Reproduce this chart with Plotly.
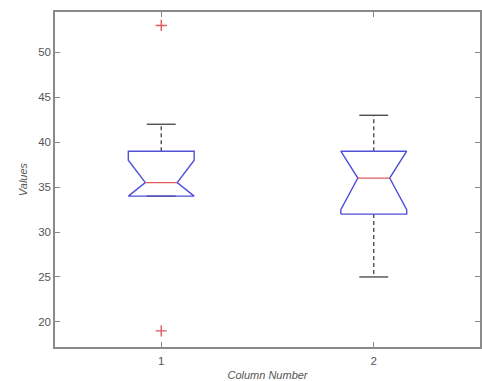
import plotly.graph_objects as go

# ---- data ----
columns = [1, 2]
q1 = [34, 32]
q3 = [39, 39]
medians = [35.5, 36]
notch_lo = [34, 32.5]
notch_hi = [38, 39]
whisker_lo = [34, 25]
whisker_hi = [42, 43]
outlier_x = [1, 1]
outlier_y = [53, 19]
y_ticks = [20, 25, 30, 35, 40, 45, 50]

# ---- styling ----
BOX_HALF = 0.155
NOTCH_HALF = 0.075
CAP_HALF = 0.068
BLUE = "#4f4fd8"
RED = "#e05a5a"
DARK = "#505050"
TXT = "#555555"

fig = go.Figure()

for i, c in enumerate(columns):
    # whiskers (dashed) and caps
    fig.add_trace(go.Scatter(
        x=[c, c, None, c, c],
        y=[q3[i], whisker_hi[i], None, q1[i], whisker_lo[i]],
        mode="lines", line=dict(color=DARK, width=1.4, dash="4px,3px"),
        hoverinfo="skip", showlegend=False))
    fig.add_trace(go.Scatter(
        x=[c - CAP_HALF, c + CAP_HALF, None, c - CAP_HALF, c + CAP_HALF],
        y=[whisker_hi[i], whisker_hi[i], None, whisker_lo[i], whisker_lo[i]],
        mode="lines", line=dict(color=DARK, width=1.4),
        hoverinfo="skip", showlegend=False))
    # notched box outline
    xs = [c - BOX_HALF, c - BOX_HALF, c - NOTCH_HALF, c - BOX_HALF, c - BOX_HALF,
          c + BOX_HALF, c + BOX_HALF, c + NOTCH_HALF, c + BOX_HALF, c + BOX_HALF,
          c - BOX_HALF]
    ys = [q1[i], notch_lo[i], medians[i], notch_hi[i], q3[i],
          q3[i], notch_hi[i], medians[i], notch_lo[i], q1[i], q1[i]]
    fig.add_trace(go.Scatter(x=xs, y=ys, mode="lines",
                             line=dict(color=BLUE, width=1.4),
                             hoverinfo="skip", showlegend=False))
    # median
    fig.add_trace(go.Scatter(
        x=[c - NOTCH_HALF, c + NOTCH_HALF], y=[medians[i], medians[i]],
        mode="lines", line=dict(color=RED, width=1.4),
        hoverinfo="skip", showlegend=False))

fig.add_trace(go.Scatter(
    x=outlier_x, y=outlier_y, mode="markers",
    marker=dict(symbol="cross-thin", size=8, line=dict(color=RED, width=1.4)),
    hoverinfo="skip", showlegend=False))

axis_common = dict(
    showgrid=False, zeroline=False, showline=True, mirror="ticks",
    linecolor="#8a8a8a", linewidth=1.5, ticks="inside", ticklen=5,
    tickcolor="#8a8a8a", tickwidth=1, automargin=False,
    tickfont=dict(family="Liberation Sans, Arial", size=11.5, color=TXT),
)

fig.update_layout(
    width=482, height=381,
    margin=dict(l=55, r=2, t=12, b=34, autoexpand=False),
    paper_bgcolor="white", plot_bgcolor="white",
    xaxis=dict(range=[0.5, 2.5], tickvals=columns, ticktext=[str(c) for c in columns],
               ticklabelstandoff=2,
               title=dict(text="<i>Column Number</i>", standoff=6,
                          font=dict(family="Liberation Sans, Arial", size=11, color=TXT)),
               **axis_common),
    yaxis=dict(range=[17.2, 54.5], tickvals=y_ticks,
               title=dict(text="<i>Values</i>", standoff=8,
                          font=dict(family="Liberation Sans, Arial", size=11, color=TXT)),
               **axis_common),
)

fig.write_html("out.html", config={"displayModeBar": False},
               post_script="document.body.style.margin='0';document.body.style.overflow='hidden';")
